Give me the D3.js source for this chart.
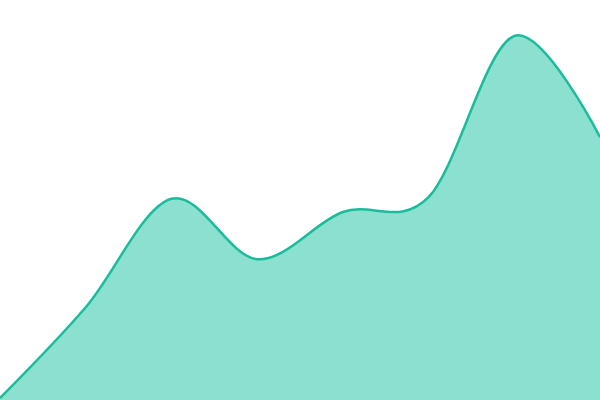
<!DOCTYPE html>
<html><head><meta charset="utf-8">
<script src="https://cdn.jsdelivr.net/npm/d3@7"></script>
<style>html,body{margin:0;padding:0;background:#fff;}svg{display:block;}</style>
</head><body>
<svg id="c" width="600" height="400"></svg>
<script>
const categories = [0, 1, 2, 3, 4, 5, 6, 7];
const values = [0.5, 23.2, 50.3, 35.2, 47, 50.7, 91, 65.7];

const W = 600, H = 400;
const svg = d3.select("#c");
const x = d3.scaleLinear().domain([0, 7]).range([0, W]);
const y = d3.scaleLinear().domain([0, 100]).range([H, 0]);
const data = categories.map((c, i) => ({c, v: values[i]}));

const curve = d3.curveCardinal.tension(0);
const area = d3.area().curve(curve)
  .x(d => x(d.c)).y0(H + 10).y1(d => y(d.v));
const line = d3.line().curve(curve)
  .x(d => x(d.c)).y(d => y(d.v));

svg.append("path").datum(data).attr("d", area).attr("fill", "#8be0cf");
svg.append("path").datum(data).attr("d", line).attr("fill", "none")
  .attr("stroke", "#1abc9c").attr("stroke-width", 2.5);
</script>
</body></html>
